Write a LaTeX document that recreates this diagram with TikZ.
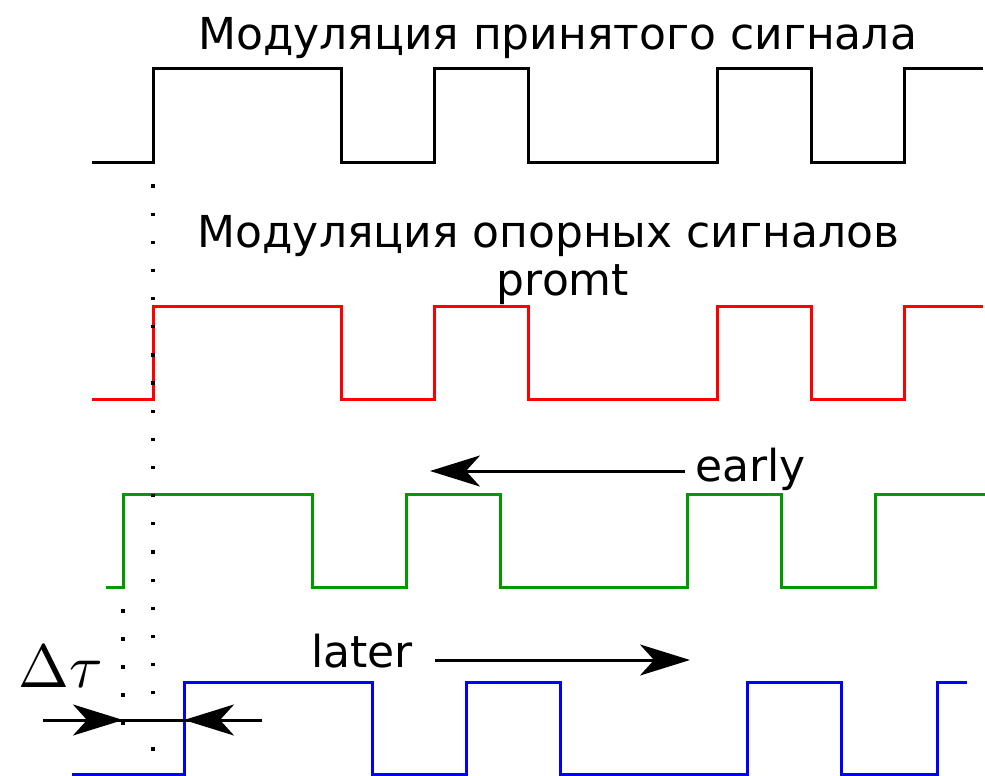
\documentclass[tikz,border=0pt]{standalone}
\usepackage{fontspec}
\setmainfont{DejaVu Sans}
\usetikzlibrary{arrows.meta}
\begin{document}
\begin{tikzpicture}[x=1pt,y=-1pt,
  sig/.style={line width=3pt, line join=miter},
  lbl/.style={font=\fontsize{44}{52}\selectfont, inner sep=0pt, anchor=base},
  bigarrow/.style={line width=3pt, -{Stealth[length=50pt,width=31pt,inset=14pt]}},
  dotmark/.style={fill=black, inner sep=0pt, minimum size=3.2pt, shape=rectangle}
]
\useasboundingbox (0,0) rectangle (985,776);

% captions
\node[lbl] (t1) at (557.5,49) {Модуляция принятого сигнала};
\node[lbl] (t2) at (548.5,247) {Модуляция опорных сигналов};
\node[lbl] (t3) at (563,295) {promt};
\node[lbl, anchor=base west] (tearly) at (695,481) {early};
\node[lbl, anchor=base west] (tlater) at (311,667) {later};
\node[inner sep=0pt, anchor=base west, scale=6.1] (dtau) at (17,687) {$\Delta\tau$};

% received signal
\draw[sig, black] (92,162) -- (153,162) -- (153,69) -- (341,69) -- (341,162) -- (434,162)
  -- (434,69) -- (528,69) -- (528,162) -- (717,162) -- (717,69) -- (811,69) -- (811,162)
  -- (904,162) -- (904,69) -- (983,69);

% prompt replica
\draw[sig, red] (92,399) -- (153,399) -- (153,306) -- (341,306) -- (341,399) -- (434,399)
  -- (434,306) -- (528,306) -- (528,399) -- (717,399) -- (717,306) -- (811,306) -- (811,399)
  -- (904,399) -- (904,306) -- (983,306);

% early replica
\draw[sig, green!60!black] (106,587) -- (123,587) -- (123,494) -- (312,494) -- (312,587) -- (406,587)
  -- (406,494) -- (500,494) -- (500,587) -- (687,587) -- (687,494) -- (781,494) -- (781,587)
  -- (875,587) -- (875,494) -- (985,494);

% late replica
\draw[sig, blue] (72,774) -- (184,774) -- (184,682) -- (372,682) -- (372,774) -- (466,774)
  -- (466,682) -- (560,682) -- (560,774) -- (747,774) -- (747,682) -- (841,682) -- (841,774)
  -- (937,774) -- (937,682) -- (967,682);

% dotted reference lines
\foreach \i in {0,...,20}
  \node[dotmark] (da\i) at (153,186+28.15*\i) {};
\foreach \i in {0,...,4}
  \node[dotmark] (db\i) at (123,611+28*\i) {};

% shift arrows
\coordinate (eS) at (685,471);
\coordinate (eE) at (430,471);
\draw[bigarrow] (eS) -- (eE);
\coordinate (lS) at (435,660);
\coordinate (lE) at (690,660);
\draw[bigarrow] (lS) -- (lE);

% delta tau marker
\coordinate (mL) at (43,720);
\coordinate (mA) at (123,720);
\coordinate (mB) at (184,720);
\coordinate (mR) at (262,720);
\draw[line width=3pt] (mL) -- (mR);
\draw[bigarrow] (mL) -- (mA);
\draw[bigarrow] (mR) -- (mB);
\end{tikzpicture}
\end{document}
